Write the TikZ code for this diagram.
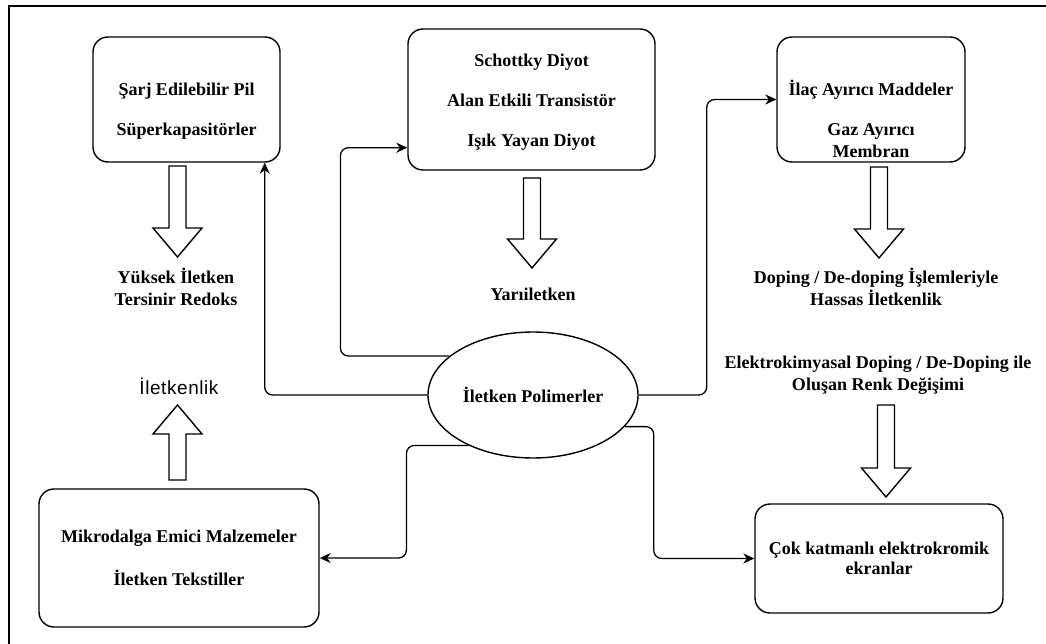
\documentclass[tikz,border=0pt]{standalone}
\usepackage{fontspec}
\setmainfont{Liberation Serif}
\setsansfont{Liberation Sans}[LetterSpace=3]
\usetikzlibrary{shapes.geometric,arrows.meta}
\tikzset{
    app-box/.style = {draw, line width=1.4pt, rounded corners=15pt, align=center, inner sep=0pt, font=\bfseries\fontsize{18}{40}\selectfont},
    poly-node/.style = {draw, ellipse, line width=1.4pt, minimum width=210pt, minimum height=126pt, inner sep=0pt, font=\bfseries\fontsize{18}{22}\selectfont},
    note/.style = {align=center, font=\bfseries\fontsize{18}{21.5}\selectfont},
    link/.style = {line width=1.3pt, rounded corners=8pt, -{Stealth[length=11pt,width=10pt]}},
    fat-arrow/.pic = {
        \draw[line width=1.4pt, fill=white] (-8.5,0) -- (-8.5,#1-29) -- (-24.5,#1-29) -- (0,#1)
            -- (24.5,#1-29) -- (8.5,#1-29) -- (8.5,0) -- cycle;
    },
}

\begin{document}
\begin{tikzpicture}[x=1pt, y=-1pt]
\useasboundingbox (0,0) rectangle (1046,644);
\draw[line width=2pt] (1060,6) -- (9,6) -- (9,660);

% application boxes
\node[app-box, minimum width=187pt, minimum height=125pt] (pil) at (186.5,99.5)
    {\rule{0pt}{35pt}Şarj Edilebilir Pil\\Süperkapasitörler};
\node[app-box, minimum width=247pt, minimum height=141pt] (diyot) at (531.5,99.5)
    {\rule{0pt}{17pt}Schottky Diyot\\Alan Etkili Transistör\\Işık Yayan Diyot};
\node[app-box, minimum width=188pt, minimum height=125pt] (ilac) at (871,99.5)
    {\rule{0pt}{55pt}İlaç Ayırıcı Maddeler\\Gaz Ayırıcı\\[-18pt]Membran};
\node[app-box, minimum width=280pt, minimum height=138pt] (mikro) at (179,558)
    {Mikrodalga Emici Malzemeler\\[3pt]İletken Tekstiller};
\node[app-box, minimum width=248pt, minimum height=109pt] (ekran) at (879,558.5)
    {Çok katmanlı elektrokromik\\[-20pt]ekranlar};

\node[poly-node] (poly) at (533,395) {İletken Polimerler};

% properties
\node[note] (redoks) at (176,287) {Yüksek İletken\\Tersinir Redoks};
\node[note] (yari) at (533,294) {Yarıiletken};
\node[note] (doping) at (876,287) {Doping / De-doping İşlemleriyle\\Hassas İletkenlik};
\node[note] (renk) at (878,375) {Elektrokimyasal Doping / De-Doping ile\\Oluşan Renk Değişimi};
\node[font=\sffamily\fontsize{19}{21}\selectfont] (iletken) at (179,386) {İletkenlik};

% hollow arrows
\pic at (177.5,166) {fat-arrow=91};
\pic at (532,178) {fat-arrow=90};
\pic at (879,167) {fat-arrow=91};
\pic at (886,405) {fat-arrow=92};
\pic[rotate=180] at (177.5,480) {fat-arrow=75};

% links from the centre
\draw[link] (poly.west) -| ([xshift=-16pt]pil.south east);
\draw[link] (poly.155) -- ++(-109,0) |- ([yshift=23pt]diyot.south west);
\draw[link] (poly.east) -- ++(68,0) |- (ilac.west);
\draw[link] (poly.218) -- ++(-62,0) |- (mikro.east);
\draw[link] (poly.341) -- ++(29,0) |- (ekran.west);
\end{tikzpicture}
\end{document}
